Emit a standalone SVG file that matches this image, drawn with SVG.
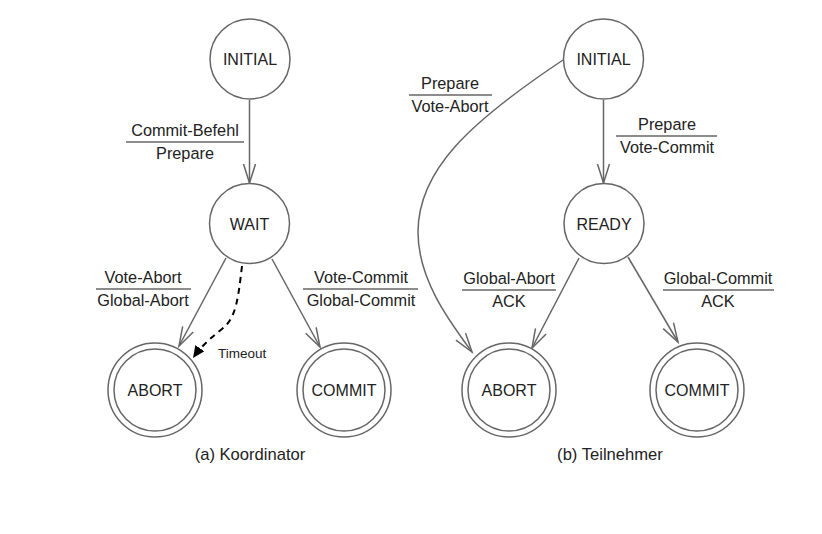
<svg xmlns="http://www.w3.org/2000/svg" width="822" height="534" viewBox="0 0 822 534">
<style>
.st{fill:#fff;stroke:#666;stroke-width:1.5}
.t{font-family:"Liberation Sans",Arial,sans-serif;font-size:16px;fill:#222;text-anchor:middle}
.lb{font-size:16.3px}
.cap{font-size:16.6px}
.sm{font-family:"Liberation Sans",Arial,sans-serif;font-size:13.5px;fill:#222}
.e{fill:none;stroke:#666;stroke-width:1.5}
.bar{stroke:#666;stroke-width:1.5}
.d{fill:none;stroke:#000;stroke-width:2;stroke-dasharray:6,5}
</style>
<defs>
<marker id="open" markerUnits="userSpaceOnUse" markerWidth="24" markerHeight="16" viewBox="0 0 24 16" refX="20" refY="7" orient="auto">
<path d="M1,1 L20,7 L1,13" fill="none" stroke="#666" stroke-width="1.5"/>
</marker>
<marker id="fill" markerUnits="userSpaceOnUse" markerWidth="14" markerHeight="12" viewBox="0 0 14 12" refX="12" refY="6" orient="auto">
<path d="M0,0.5 L12,6 L0,11.5 Z" fill="#000"/>
</marker>
</defs>
<rect width="822" height="534" fill="#fff"/>

<g id="connectors">
<line class="e" x1="249.5" y1="100" x2="249.5" y2="183" marker-end="url(#open)"/>
<line class="e" x1="226" y1="258" x2="179" y2="346" marker-end="url(#open)"/>
<line class="e" x1="272" y1="259" x2="320" y2="347" marker-end="url(#open)"/>
<path class="d" d="M242,266 C238,300 236,318 222,329 S200,348 193,358" marker-end="url(#fill)"/>
<line class="e" x1="603.5" y1="100" x2="603.5" y2="183" marker-end="url(#open)"/>
<path class="e" d="M563,60 C470,122 418,170 418,232 C418,280 450,322 472,352" marker-end="url(#open)"/>
<line class="e" x1="579" y1="258" x2="532" y2="348" marker-end="url(#open)"/>
<line class="e" x1="628" y1="257" x2="678" y2="342" marker-end="url(#open)"/>

<text class="t lb" x="185" y="136">Commit-Befehl</text>
<line class="bar" x1="126" y1="142" x2="244" y2="142"/>
<text class="t lb" x="185" y="159">Prepare</text>

<text class="t lb" x="143" y="283">Vote-Abort</text>
<line class="bar" x1="96" y1="289" x2="191" y2="289"/>
<text class="t lb" x="143" y="306">Global-Abort</text>

<text class="t lb" x="361" y="283">Vote-Commit</text>
<line class="bar" x1="303" y1="289" x2="418" y2="289"/>
<text class="t lb" x="361" y="306">Global-Commit</text>

<text class="sm" x="218" y="358">Timeout</text>

<text class="t lb" x="450" y="89">Prepare</text>
<line class="bar" x1="409" y1="95" x2="492" y2="95"/>
<text class="t lb" x="450" y="112">Vote-Abort</text>

<text class="t lb" x="667" y="130">Prepare</text>
<line class="bar" x1="616" y1="136" x2="717" y2="136"/>
<text class="t lb" x="667" y="153">Vote-Commit</text>

<text class="t lb" x="509" y="284">Global-Abort</text>
<line class="bar" x1="462" y1="290" x2="556" y2="290"/>
<text class="t lb" x="509" y="307">ACK</text>

<text class="t lb" x="718" y="284">Global-Commit</text>
<line class="bar" x1="663" y1="290" x2="774" y2="290"/>
<text class="t lb" x="718" y="307">ACK</text>
</g>

<g id="a-initial"><circle class="st" cx="250" cy="59" r="40"/><text class="t" x="250" y="65">INITIAL</text></g>
<g id="a-wait"><circle class="st" cx="249.5" cy="223.5" r="40"/><text class="t" x="249.5" y="229.5">WAIT</text></g>
<g id="a-abort"><circle class="st" cx="155" cy="390" r="47"/><circle class="st" cx="155" cy="390" r="41"/><text class="t" x="155" y="396">ABORT</text></g>
<g id="a-commit"><circle class="st" cx="344" cy="390" r="47"/><circle class="st" cx="344" cy="390" r="41"/><text class="t" x="344" y="396">COMMIT</text></g>

<g id="b-initial"><circle class="st" cx="603.5" cy="59" r="40"/><text class="t" x="603.5" y="65">INITIAL</text></g>
<g id="b-ready"><circle class="st" cx="604" cy="223.5" r="40"/><text class="t" x="604" y="229.5">READY</text></g>
<g id="b-abort"><circle class="st" cx="509" cy="390" r="47"/><circle class="st" cx="509" cy="390" r="41"/><text class="t" x="509" y="396">ABORT</text></g>
<g id="b-commit"><circle class="st" cx="697" cy="390" r="47"/><circle class="st" cx="697" cy="390" r="41"/><text class="t" x="697" y="396">COMMIT</text></g>

<g id="captions">
<text class="t cap" x="250" y="460">(a) Koordinator</text>
<text class="t cap" x="610" y="460">(b) Teilnehmer</text>
</g>
</svg>
